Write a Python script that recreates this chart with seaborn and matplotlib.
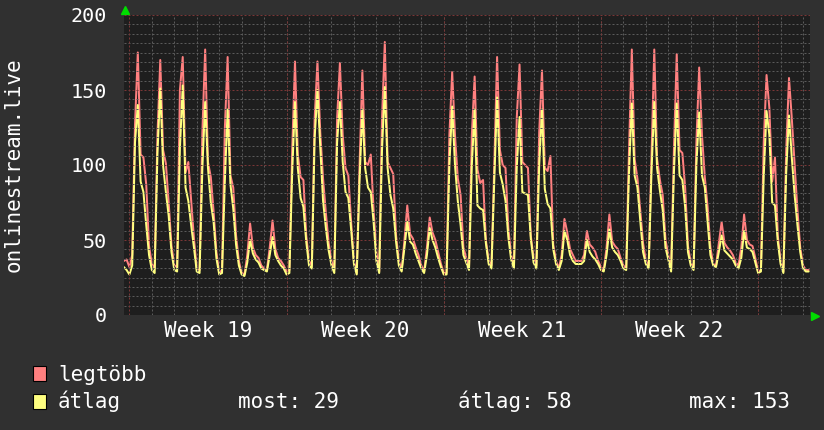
# onlinestream.live - havi grafikon (rrdtool stílus)

import numpy as np
import pandas as pd
import seaborn as sns
import matplotlib.pyplot as plt
from matplotlib.patches import Rectangle

# 3 óránkénti minták, a 19. hét kezdete előtt 2 mintával indul
start = -0.25
step = 1 / 8

# legtöbb (max) - hetenként
max_pre = [36, 37]
max_w19 = [32, 40, 127, 175, 107, 105, 87, 46,
           34, 31, 120, 170, 110, 101, 75, 46,
           33, 32, 150, 172, 95, 102, 76, 51,
           31, 30, 122, 177, 102, 92, 69, 42,
           28, 30, 124, 172, 93, 85, 53, 36,
           28, 27, 40, 61, 45, 40, 38, 33,
           31, 30, 45, 63, 44, 38, 36, 33]
max_w20 = [29, 30, 110, 169, 107, 92, 90, 53,
           36, 33, 131, 169, 122, 91, 68, 48,
           36, 30, 131, 168, 120, 98, 93, 62,
           36, 28, 100, 163, 102, 100, 107, 70,
           42, 29, 131, 182, 102, 98, 94, 53,
           36, 30, 50, 73, 54, 51, 45, 40,
           33, 29, 45, 65, 55, 50, 42, 34]
max_w21 = [28, 28, 120, 162, 120, 91, 80, 45,
           38, 32, 120, 159, 97, 88, 90, 50,
           36, 33, 100, 172, 110, 100, 98, 58,
           40, 33, 131, 167, 102, 100, 98, 53,
           38, 33, 122, 163, 98, 96, 106, 47,
           36, 31, 40, 64, 55, 44, 40, 36,
           36, 36, 40, 56, 47, 45, 42, 36]
max_w22 = [32, 30, 45, 67, 49, 46, 44, 38,
           33, 31, 110, 177, 104, 91, 70, 48,
           36, 33, 104, 177, 104, 90, 80, 50,
           40, 30, 110, 174, 110, 108, 85, 46,
           35, 31, 115, 165, 120, 92, 72, 45,
           34, 33, 48, 62, 48, 45, 43, 40,
           35, 33, 45, 67, 50, 47, 46, 38]
max_w23 = [29, 30, 115, 160, 138, 89, 105, 53,
           36, 29, 110, 158, 131, 100, 70, 45,
           33, 30, 30]

# átlag - hetenként
avg_pre = [32, 30]
avg_w19 = [27, 33, 115, 140, 89, 82, 60, 40,
           30, 28, 108, 151, 100, 82, 66, 42,
           30, 29, 111, 153, 85, 76, 60, 45,
           29, 28, 98, 142, 98, 75, 62, 38,
           27, 28, 89, 137, 87, 71, 47, 33,
           27, 26, 35, 50, 41, 37, 35, 31,
           30, 29, 40, 52, 40, 36, 33, 31]
avg_w20 = [27, 28, 95, 142, 98, 78, 72, 49,
           33, 31, 118, 150, 112, 76, 58, 43,
           33, 28, 115, 142, 102, 82, 78, 57,
           34, 27, 90, 137, 98, 85, 82, 62,
           36, 28, 110, 152, 98, 80, 71, 49,
           33, 29, 45, 62, 49, 47, 41, 36,
           31, 28, 40, 58, 50, 45, 38, 32]
avg_w21 = [27, 27, 100, 139, 100, 76, 60, 40,
           35, 30, 100, 137, 73, 71, 70, 48,
           34, 31, 90, 145, 95, 87, 76, 52,
           37, 31, 98, 132, 82, 81, 80, 51,
           35, 31, 100, 137, 84, 74, 71, 44,
           34, 30, 36, 56, 50, 40, 36, 34,
           34, 34, 36, 50, 42, 39, 37, 34]
avg_w22 = [30, 29, 40, 57, 45, 42, 40, 36,
           31, 30, 95, 141, 93, 85, 63, 42,
           34, 31, 95, 142, 98, 83, 70, 45,
           37, 29, 95, 141, 93, 90, 72, 42,
           33, 30, 100, 135, 93, 85, 62, 40,
           33, 32, 42, 53, 43, 41, 39, 37,
           33, 31, 38, 56, 45, 44, 42, 35]
avg_w23 = [28, 29, 93, 136, 120, 75, 73, 49,
           34, 28, 95, 133, 105, 80, 60, 42,
           31, 29, 29]

week_labels = ['Week 19', 'Week 20', 'Week 21', 'Week 22']
week_starts = [0, 7, 14, 21, 28]
stats = {'most': 29, 'átlag': 58, 'max': 153}

legtobb = max_pre + max_w19 + max_w20 + max_w21 + max_w22 + max_w23
atlag = avg_pre + avg_w19 + avg_w20 + avg_w21 + avg_w22 + avg_w23
t = start + np.arange(len(legtobb)) * step
df = pd.DataFrame({'nap': t, 'legtöbb': legtobb, 'átlag': atlag})

# színek
bg = '#303030'
plot_bg = '#1e1e1e'
c_max = '#ff8080'
c_avg = '#ffff80'
c_minor = '#5a5a5a'
c_major = '#7a3636'

sns.set_theme(style='dark', rc={'figure.facecolor': bg, 'axes.facecolor': plot_bg,
                                'text.color': 'white', 'xtick.color': 'white', 'ytick.color': 'white'})
plt.rcParams['font.family'] = ['DejaVu Sans Mono', 'DejaVu Sans']

W, H = 824, 430
fig = plt.figure(figsize=(W / 100, H / 100), dpi=100)
ax = fig.add_axes([124 / W, 1 - 315 / H, 686 / W, 300 / H])

px = 0.72  # 1 pixel pontban
sns.lineplot(data=df, x='nap', y='legtöbb', color=c_max, lw=2 * px, estimator=None, ax=ax, zorder=2)
sns.lineplot(data=df, x='nap', y='átlag', color=c_avg, lw=2 * px, estimator=None, ax=ax, zorder=2)

ax.set_xlim(-0.24, 30.31)
ax.set_ylim(0, 200)

# rács: napok / 6.25 egység szürkén, hetek / 50 egység vörösen
dots = (0, (2, 2))
ax.set_xticks([s + 3.5 for s in week_starts[:4]], week_labels)
ax.set_xticks(np.arange(1, 31), minor=True)
ax.set_yticks([0, 50, 100, 150, 200])
ax.set_yticks(np.arange(0, 201, 6.25), minor=True)
ax.grid(False)
ax.grid(which='minor', color=c_minor, lw=px, linestyle=dots)
ax.grid(which='major', axis='y', color=c_major, lw=px, linestyle=dots)
ax.vlines(week_starts, 0, 200, color=c_major, lw=px, linestyles=dots, zorder=3)
ax.set_axisbelow(False)

ax.tick_params(axis='both', which='both', length=0)
ax.tick_params(axis='x', labelsize=15, pad=4)
ax.tick_params(axis='y', labelsize=14.5, pad=12)
ax.set_xlabel('')
ax.set_ylabel('')
for s in ax.spines.values():
    s.set_visible(False)

# nyilak
ax.plot([0.001], [1.017], marker='^', color='#00dd00', markersize=6, transform=ax.transAxes, clip_on=False)
ax.plot([1.0066], [-0.002], marker='>', color='#00dd00', markersize=6, transform=ax.transAxes, clip_on=False)

fig.text(14 / W, 1 - 165 / H, 'onlinestream.live', rotation=90, ha='center', va='center', fontsize=15)

# jelmagyarázat
fs = 15
for y_top, col in [(366, c_max), (394, c_avg)]:
    fig.add_artist(Rectangle((33 / W, 1 - (y_top + 15) / H), 13 / W, 15 / H, transform=fig.transFigure,
                             facecolor=col, edgecolor='black', lw=0.8))
fig.text(58 / W, 1 - 381 / H, 'legtöbb', fontsize=fs, va='baseline')
fig.text(58 / W, 1 - 408 / H, 'átlag', fontsize=fs, va='baseline')
fig.text(238 / W, 1 - 408 / H, f"most: {stats['most']}", fontsize=fs, va='baseline')
fig.text(458 / W, 1 - 408 / H, f"átlag: {stats['átlag']}", fontsize=fs, va='baseline')
fig.text(689 / W, 1 - 408 / H, f"max: {stats['max']}", fontsize=fs, va='baseline')

fig.savefig('out.png', dpi=100, facecolor=bg)
